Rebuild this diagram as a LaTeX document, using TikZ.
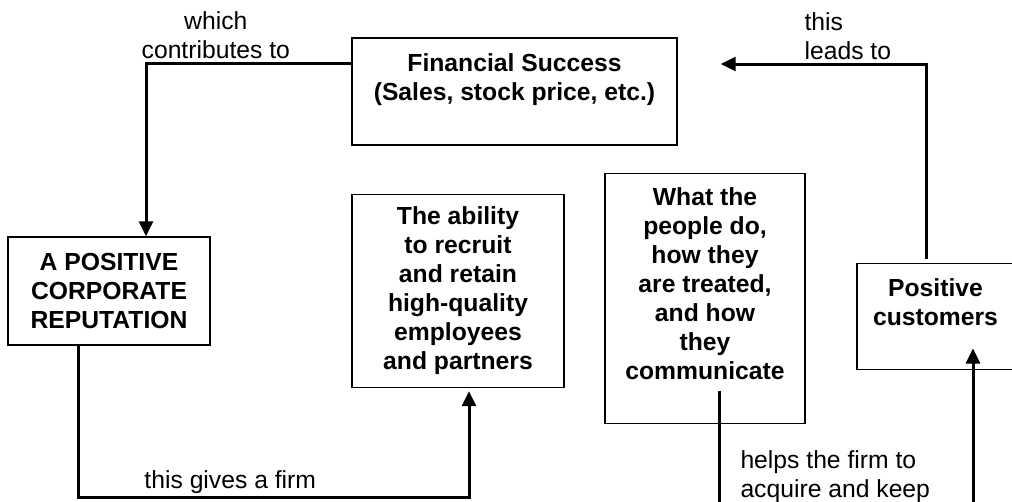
\documentclass[tikz,border=0pt]{standalone}
\usepackage{fontspec}
\setmainfont{Liberation Sans}
\usetikzlibrary{positioning,arrows.meta}

\begin{document}
\begin{tikzpicture}[x=1pt, y=-1pt, >={Triangle[length=15pt,width=14pt]}, on grid,
   font=\fontsize{24.7}{29}\selectfont,
   box/.style={draw, line width=1.3pt, align=center, inner sep=0pt, font=\fontsize{24.7}{29}\selectfont\bfseries},
   link/.style={->, line width=3pt},
   note/.style={inner sep=1pt}]
   \useasboundingbox (0,0) rectangle (1012,501);
   \node[box, minimum width=202pt, minimum height=108pt] (rep) at (109,291) {A POSITIVE\\CORPORATE\\REPUTATION};
   \node[box, minimum width=325pt, minimum height=107pt] (fin) [above right=199.5pt and 405.5pt of rep] {Financial Success\\(Sales, stock price, etc.)\\\mbox{}};
   \node[box, minimum width=212pt, minimum height=193pt] (abil) [right=349pt of rep] {The ability\\to recruit\\and retain\\high-quality\\employees\\and partners};
   \node[box, minimum width=200pt, minimum height=250pt] (what) [below right=7.5pt and 247pt of abil] {What the\\people do,\\how they\\are treated,\\and how\\they\\communicate\\\mbox{}};
   \node[box, minimum width=157pt, minimum height=106pt] (pos) [below right=18pt and 230.5pt of what] {Positive\\customers\\\mbox{}};

   \draw[link] ([yshift=28.5pt]fin.west) -| ([xshift=37pt]rep.north)
      node[note, above=2pt, pos=0.33, align=center] (contrib) {which\\contributes to};
   \draw[link, shorten >=43pt] ([xshift=-9.5pt, yshift=4pt]pos.north) |- ([yshift=27.5pt]fin.east)
      node[note, above left=2pt, pos=0.5, xshift=-31pt, align=left] (leads) {this\\leads to};
   \draw[link] ([xshift=-31pt]rep.south) -- ++(0,152) -| ([xshift=11pt, yshift=-3pt]abil.south)
      node[note, above right=2pt, pos=0.08] (gives) {this gives a firm};
   \draw[link] ([xshift=14pt, yshift=-92pt]what.center) -- ++(0,125)
      node[note, right=19pt, pos=0.685, align=left] (helps) {helps the firm to\\acquire and keep}
      -| ([xshift=37.5pt, yshift=-32pt]pos.center);
\end{tikzpicture}
\end{document}
